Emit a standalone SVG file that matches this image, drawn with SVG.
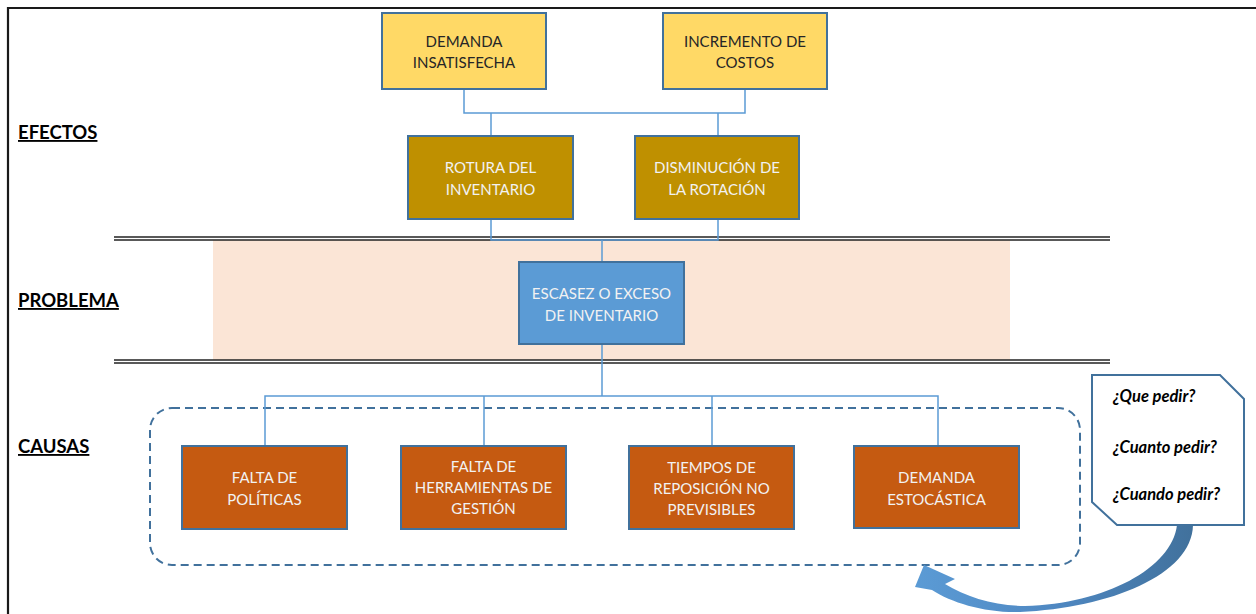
<svg xmlns="http://www.w3.org/2000/svg" width="1256" height="614" viewBox="0 0 1256 614">
<defs>
<style>
.box{stroke:#41719C;stroke-width:2}
.yel{fill:#FFD966}
.gold{fill:#BF9000}
.blue{fill:#5B9BD5}
.org{fill:#C55A11}
.t{font-family:Lato,"Liberation Sans",sans-serif;font-size:15px;text-anchor:middle}
.dk{fill:#262626}
.wt{fill:#F2F2F2}
.lbl{font-family:Lato,"Liberation Sans",sans-serif;font-size:18.5px;font-weight:bold;fill:#000;text-decoration:underline}
.q{font-family:Lato,"Liberation Sans",sans-serif;font-size:16.5px;font-weight:bold;font-style:italic;fill:#000}
.con{stroke:#5B9BD5;stroke-width:1.5;fill:none}
.dbl{stroke:#222;stroke-width:1.4}
</style>
<linearGradient id="ag" x1="0" y1="0" x2="1" y2="0">
<stop offset="0" stop-color="#5B9BD5"/>
<stop offset="0.5" stop-color="#4F88C2"/>
<stop offset="1" stop-color="#41719C"/>
</linearGradient>
</defs>
<rect x="0" y="0" width="1256" height="614" fill="#fff"/>
<path d="M8 614 V8 H1256" fill="none" stroke="#1a1a1a" stroke-width="2.2"/>
<rect x="213" y="240" width="797" height="120" fill="#FBE5D6"/>
<g id="separators">
<line class="dbl" x1="114" y1="237" x2="1110" y2="237"/>
<line class="dbl" x1="114" y1="240" x2="1110" y2="240"/>
<line class="dbl" x1="114" y1="360" x2="1110" y2="360"/>
<line class="dbl" x1="114" y1="363" x2="1110" y2="363"/>
</g>
<text class="lbl" x="18" y="139">EFECTOS</text>
<text class="lbl" x="18" y="307">PROBLEMA</text>
<text class="lbl" x="18" y="453">CAUSAS</text>
<rect x="150" y="408" width="930" height="157" rx="22" ry="22" fill="none" stroke="#41719C" stroke-width="2" stroke-dasharray="8 5"/>
<g id="connectors">
<path class="con" d="M464 89 V113 H745 V89"/>
<path class="con" d="M491 113 V136"/>
<path class="con" d="M718 113 V136"/>
<path class="con" d="M491 219 V240 H718 V219"/>
<path class="con" d="M602 240 V262"/>
<path class="con" d="M602 344 V396"/>
<path class="con" d="M265 446 V396 H938 V446"/>
<path class="con" d="M484 396 V446"/>
<path class="con" d="M712 396 V446"/>
</g>
<g id="n-demanda-insatisfecha">
<rect class="box yel" x="382" y="13" width="164" height="76"/>
<text class="t dk" x="464" y="47">DEMANDA</text>
<text class="t dk" x="464" y="68">INSATISFECHA</text>
</g>
<g id="n-incremento-costos">
<rect class="box yel" x="663" y="13" width="164" height="76"/>
<text class="t dk" x="745" y="47">INCREMENTO DE</text>
<text class="t dk" x="745" y="68">COSTOS</text>
</g>
<g id="n-rotura">
<rect class="box gold" x="408" y="136" width="165" height="83"/>
<text class="t wt" x="490.5" y="173">ROTURA DEL</text>
<text class="t wt" x="490.5" y="195">INVENTARIO</text>
</g>
<g id="n-disminucion">
<rect class="box gold" x="635" y="136" width="164" height="83"/>
<text class="t wt" x="717" y="173">DISMINUCIÓN DE</text>
<text class="t wt" x="717" y="195">LA ROTACIÓN</text>
</g>
<g id="n-escasez">
<rect class="box blue" x="519" y="262" width="165" height="82"/>
<text class="t wt" x="601.5" y="299">ESCASEZ O EXCESO</text>
<text class="t wt" x="601.5" y="321">DE INVENTARIO</text>
</g>
<g id="n-falta-politicas">
<rect class="box org" x="182" y="446" width="165" height="83"/>
<text class="t wt" x="264.5" y="483">FALTA DE</text>
<text class="t wt" x="264.5" y="505">POLÍTICAS</text>
</g>
<g id="n-falta-herramientas">
<rect class="box org" x="401" y="446" width="165" height="83"/>
<text class="t wt" x="483.5" y="472">FALTA DE</text>
<text class="t wt" x="483.5" y="493">HERRAMIENTAS DE</text>
<text class="t wt" x="483.5" y="514">GESTIÓN</text>
</g>
<g id="n-tiempos">
<rect class="box org" x="629" y="446" width="165" height="83"/>
<text class="t wt" x="711.5" y="473">TIEMPOS DE</text>
<text class="t wt" x="711.5" y="494">REPOSICIÓN NO</text>
<text class="t wt" x="711.5" y="515">PREVISIBLES</text>
</g>
<g id="n-demanda-estocastica">
<rect class="box org" x="854" y="446" width="165" height="82"/>
<text class="t wt" x="936.5" y="483">DEMANDA</text>
<text class="t wt" x="936.5" y="505">ESTOCÁSTICA</text>
</g>
<g id="n-preguntas">
<path d="M1092 375 H1220 L1244 399 V525 H1117 L1092 502 Z" fill="#fff" stroke="#41719C" stroke-width="2"/>
<text class="q" x="1113" y="402">¿Que pedir?</text>
<text class="q" x="1113" y="453">¿Cuanto pedir?</text>
<text class="q" x="1113" y="500">¿Cuando pedir?</text>
</g>
<g id="curved-arrow">
<path d="M1193 525 C1192 575 1110 608 1020 612 C985 613 952 603 932 590 L915 587 L924 565 L955 579 L945 584 C966 597 995 606 1025 606 C1105 604 1172 568 1177 525 Z" fill="url(#ag)"/>
</g>
</svg>
